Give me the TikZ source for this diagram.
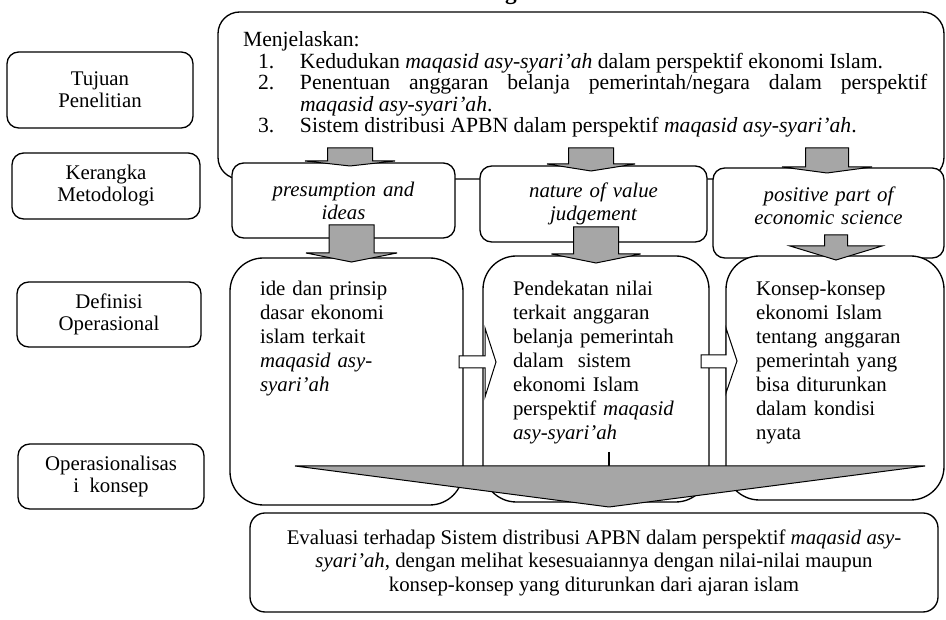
\documentclass[tikz,border=0pt]{standalone}
\usepackage{fontspec}
\setmainfont{Liberation Serif}
\hyphenpenalty=10000
\exhyphenpenalty=10000
\definecolor{abu}{HTML}{A6A6A6}

% butir bernomor dengan indentasi menggantung
\newcommand{\butir}[2]{\par\hangindent=34.2pt\hangafter=0\noindent\llap{\makebox[25.2pt][l]{#1}}#2\par}
% panah blok ke bawah: x, y atas, y kepala, y ujung, setengah batang, setengah kepala
\newcommand{\panahturun}[6]{%
  \draw[panahabu] ({#1-#5},#2) -- ({#1+#5},#2) -- ({#1+#5},#3) -- ({#1+#6},#3)
    -- (#1,#4) -- ({#1-#6},#3) -- ({#1-#5},#3) -- cycle;}

\begin{document}
\begin{tikzpicture}[
        x=0.6pt, y=-0.6pt,
        kotak/.style={draw=black, thick, fill=white},
        sisi/.style={kotak, rounded corners=7pt, align=center, font=\fontsize{12.5}{13.2}\selectfont},
        tujuanbox/.style={kotak, rounded corners=13pt, anchor=base, inner xsep=10pt, inner ysep=0pt, text width=415.6pt, align=justify, font=\fontsize{13}{12.9}\selectfont},
        kerangka/.style={kotak, rounded corners=7pt, anchor=base, inner xsep=4pt, inner ysep=0pt, align=center, font=\itshape\fontsize{12.5}{13.8}\selectfont},
        definisi/.style={kotak, rounded corners=20pt, anchor=base, inner xsep=18pt, inner ysep=0pt, align=left, font=\fontsize{12.5}{14.4}\selectfont},
        evaluasi/.style={kotak, rounded corners=9pt, align=center, font=\fontsize{12.5}{14.1}\selectfont},
        panahabu/.style={draw=black, semithick, fill=abu},
        panahputih/.style={draw=black, semithick, fill=white}
    ]
        \useasboundingbox (0,0) rectangle (946,620);

        \node (judul) [anchor=base, inner sep=0pt, font=\bfseries\fontsize{14}{16}\selectfont] at (511,0) {g};

        % kolom kiri
        \node (tujuan)   [sisi, minimum width=111.6pt, minimum height=45.6pt] at (100,90) {Tujuan\\Penelitian};
        \node (kerangka) [sisi, minimum width=112.8pt, minimum height=39.6pt] at (106,186) {Kerangka\\Metodologi};
        \node (definisi) [sisi, minimum width=110.4pt, minimum height=39pt] at (109,314.5) {Definisi\\Operasional};
        \node (opkonsep) [sisi, minimum width=111.6pt, minimum height=39pt] at (111,476.5) {Operasionalisas\\i~ konsep};

        % tujuan penelitian
        \node (menjelaskan) [tujuanbox, text height=21pt, text depth=79.2pt] at (581,47) {\leftskip=5pt Menjelaskan:
            \butir{1.}{Kedudukan \textit{maqasid asy-syari’ah} dalam perspektif ekonomi Islam.}
            \butir{2.}{Penentuan anggaran belanja pemerintah/negara dalam perspektif \textit{maqasid asy-syari’ah}.}
            \butir{3.}{Sistem distribusi APBN dalam perspektif \textit{maqasid asy-syari’ah}.}};

        % kerangka metodologi
        \node (presumption) [kerangka, text width=125.8pt, text height=20.4pt, text depth=24.6pt] at (343.5,197) {presumption and\\ideas};
        \node (nature)      [kerangka, text width=128.2pt, text height=19.2pt, text depth=26.4pt] at (593.5,198) {nature of value\\judgement};
        \node (positive)    [kerangka, text width=130.6pt, text height=20.4pt, text depth=33.6pt] at (828.5,202) {positive part of\\economic science};

        % definisi operasional
        \node (ide)        [definisi, text width=103.8pt, text height=22.8pt, text depth=125.4pt] at (346.5,296)
            {ide dan prinsip\\dasar ekonomi\\islam terkait\\\textit{maqasid asy-}\\\textit{syari’ah}};
        \node (pendekatan) [definisi, text width=99.6pt, text height=24pt, text depth=123.6pt] at (596,296)
            {Pendekatan nilai\\terkait anggaran\\belanja pemerintah\\dalam~ sistem\\ekonomi Islam\\perspektif \textit{maqasid}\\\textit{asy-syari’ah}};
        \node (konsep)     [definisi, text width=94.8pt, text height=24pt, text depth=122.4pt] at (835,296)
            {Konsep-konsep\\ekonomi Islam\\tentang anggaran\\pemerintah yang\\bisa diturunkan\\dalam kondisi\\nyata};

        % operasionalisasi
        \node (evaluasi) [evaluasi, minimum width=412.8pt, minimum height=59.4pt] at (594,562.5)
            {Evaluasi terhadap Sistem distribusi APBN dalam perspektif \textit{maqasid asy-}\\\textit{syari’ah}, dengan melihat kesesuaiannya dengan nilai-nilai maupun\\konsep-konsep yang diturunkan dari ajaran islam};

        % panah
        \panahturun{350}{148}{161}{166}{22.5}{45}
        \panahturun{591}{148}{164}{171}{22.5}{44}
        \panahturun{827}{148}{167}{173}{21.5}{45}
        \panahturun{351.5}{225}{253}{262}{22.5}{45.5}
        \panahturun{596}{227}{254}{263}{22.5}{44.5}
        \panahturun{836}{235}{246}{260}{11.5}{46}

        \draw[panahputih] (459,356) -- (485,356) -- (485,328) -- (496,362) -- (485,397) -- (485,368) -- (459,368) -- cycle;
        \draw[panahputih] (701,355) -- (726,355) -- (726,328) -- (737,361) -- (726,393) -- (726,368) -- (701,368) -- cycle;

        \draw[thick] (609,452) -- (609,466);
        \draw[panahabu] (295,466) -- (925,466) -- (609,507) -- cycle;
    \end{tikzpicture}
\end{document}
